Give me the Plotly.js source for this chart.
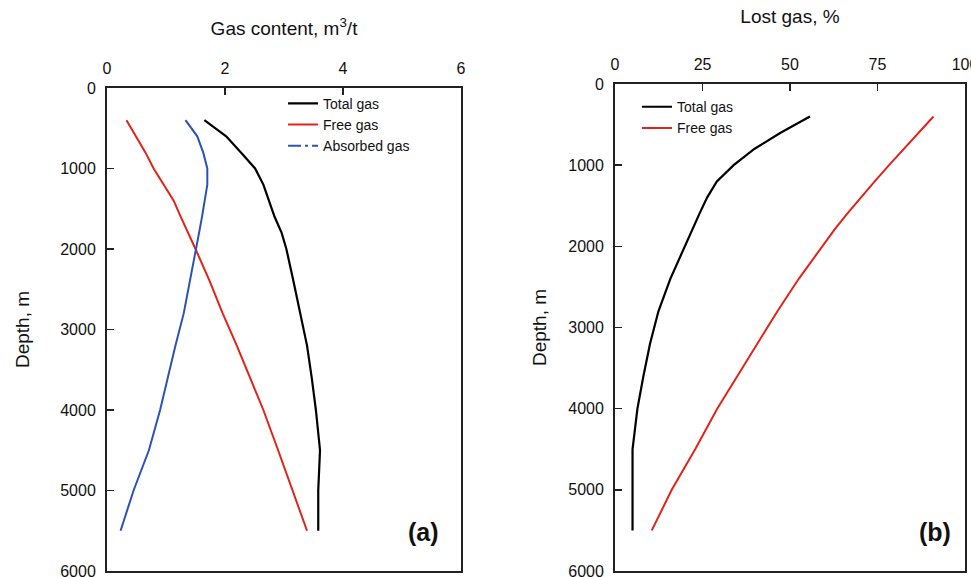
<!DOCTYPE html>
<html>
<head>
<meta charset="utf-8">
<script src="https://cdn.plot.ly/plotly-3.0.1.min.js"></script>
<style>html,body{margin:0;padding:0;background:#fff;}#chart{width:971px;height:577px;}</style>
</head>
<body>
<div id="chart"></div>
<script>
// Depth points (m)
var depth = [400, 600, 800, 1000, 1200, 1400, 1600, 1800, 2000, 2400, 2800, 3200, 3600, 4000, 4500, 5000, 5500];
// Panel (a): gas content, m3/t
var totalGas    = [1.65, 2.02, 2.27, 2.51, 2.65, 2.75, 2.84, 2.96, 3.04, 3.16, 3.27, 3.39, 3.47, 3.54, 3.61, 3.58, 3.58];
var freeGas     = [0.33, 0.49, 0.65, 0.79, 0.96, 1.13, 1.25, 1.38, 1.50, 1.74, 1.96, 2.20, 2.43, 2.65, 2.90, 3.14, 3.39];
var absorbedGas = [1.33, 1.53, 1.63, 1.70, 1.70, 1.66, 1.61, 1.56, 1.51, 1.41, 1.30, 1.16, 1.03, 0.90, 0.71, 0.45, 0.23];
// Panel (b): lost gas, %
var lostTotal = [55.7, 47.3, 39.8, 33.9, 29.1, 26.3, 24.1, 22.0, 19.8, 15.8, 12.4, 10.0, 8.1, 6.4, 5.0, 5.0, 5.0];
var lostFree  = [91.0, 86.7, 82.5, 78.3, 74.2, 70.2, 66.3, 62.6, 59.2, 52.5, 46.4, 40.6, 34.9, 29.2, 22.9, 16.2, 10.5];
// Ticks
var gasTicks = [0, 2, 4, 6];
var lostTicks = [0, 25, 50, 75, 100];
var depthTicks = [0, 1000, 2000, 3000, 4000, 5000, 6000];

var FONT = 'Liberation Sans, Arial, Helvetica, sans-serif';
var BLACK = '#000000', RED = '#e2231a', BLUE = '#2b52b4';

var traces = [
  {x: totalGas, y: depth, name: 'Total gas', type: 'scatter', mode: 'lines',
   line: {color: BLACK, width: 2.2}, xaxis: 'x', yaxis: 'y', legend: 'legend'},
  {x: freeGas, y: depth, name: 'Free gas', type: 'scatter', mode: 'lines',
   line: {color: RED, width: 2}, xaxis: 'x', yaxis: 'y', legend: 'legend'},
  {x: absorbedGas, y: depth, name: 'Absorbed gas', type: 'scatter', mode: 'lines',
   line: {color: BLUE, width: 2}, xaxis: 'x', yaxis: 'y', showlegend: false},
  {x: [null], y: [null], name: 'Absorbed gas', type: 'scatter', mode: 'lines',
   line: {color: BLUE, width: 2, dash: '13px,4px,3px,4px'}, xaxis: 'x', yaxis: 'y', legend: 'legend'},
  {x: lostTotal, y: depth, name: 'Total gas', type: 'scatter', mode: 'lines',
   line: {color: BLACK, width: 2.2}, xaxis: 'x2', yaxis: 'y2', legend: 'legend2'},
  {x: lostFree, y: depth, name: 'Free gas', type: 'scatter', mode: 'lines',
   line: {color: RED, width: 2}, xaxis: 'x2', yaxis: 'y2', legend: 'legend2'}
];

function xAx(domain, range, ticks, title, anchor, standoff) {
  return {
    domain: domain, range: range, anchor: anchor, side: 'top',
    tickmode: 'array', tickvals: ticks, ticktext: ticks.map(String),
    ticks: 'inside', ticklen: 7, tickwidth: 1.5, tickcolor: '#222',
    showline: true, linecolor: '#222', linewidth: 2, mirror: true,
    showgrid: false, zeroline: false, fixedrange: true,
    ticklabelstandoff: 6, ticklabeloverflow: 'allow',
    tickfont: {family: FONT, size: 16, color: '#111'},
    title: {text: title, font: {family: FONT, size: 19, color: '#111'}, standoff: standoff}
  };
}
function yAx(domain, anchor, standoff) {
  return {
    domain: domain, range: [6000, 0], anchor: anchor,
    tickmode: 'array', tickvals: depthTicks, ticktext: depthTicks.map(String),
    ticks: 'inside', ticklen: 7, tickwidth: 1.5, tickcolor: '#222',
    showline: true, linecolor: '#222', linewidth: 2, mirror: true,
    showgrid: false, zeroline: false, fixedrange: true,
    ticklabelstandoff: 6, ticklabeloverflow: 'allow',
    tickfont: {family: FONT, size: 16, color: '#111'},
    title: {text: 'Depth, m', font: {family: FONT, size: 19, color: '#111'}, standoff: standoff}
  };
}

var layout = {
  width: 971, height: 577,
  margin: {l: 0, r: 0, t: 0, b: 0},
  paper_bgcolor: '#fff', plot_bgcolor: '#fff',
  font: {family: FONT, color: '#111'},
  xaxis: xAx([0.1102, 0.4748], [0, 6], gasTicks, 'Gas content, m<sup>3</sup>/t', 'y', 19),
  yaxis: yAx([0.0104, 0.8475], 'x', 26),
  xaxis2: xAx([0.6334, 0.9938], [0, 100], lostTicks, 'Lost gas, %', 'y2', 27),
  yaxis2: yAx([0.0104, 0.8544], 'x2', 17),
  legend: {x: 0.2915, y: 0.848, xanchor: 'left', yanchor: 'top', bgcolor: 'rgba(0,0,0,0)',
           font: {family: FONT, size: 14, color: '#111'}, tracegroupgap: 0, itemwidth: 30},
  legend2: {x: 0.656, y: 0.842, xanchor: 'left', yanchor: 'top', bgcolor: 'rgba(0,0,0,0)',
           font: {family: FONT, size: 14, color: '#111'}, tracegroupgap: 0, itemwidth: 30},
  annotations: [
    {text: '<b>(a)</b>', xref: 'paper', yref: 'paper', x: 0.454, y: 0.078, xanchor: 'right', yanchor: 'middle',
     showarrow: false, font: {family: FONT, size: 25, color: '#111'}},
    {text: '<b>(b)</b>', xref: 'paper', yref: 'paper', x: 0.981, y: 0.078, xanchor: 'right', yanchor: 'middle',
     showarrow: false, font: {family: FONT, size: 25, color: '#111'}}
  ],
  showlegend: true
};

Plotly.newPlot('chart', traces, layout, {displayModeBar: false, staticPlot: true});
</script>
</body>
</html>
